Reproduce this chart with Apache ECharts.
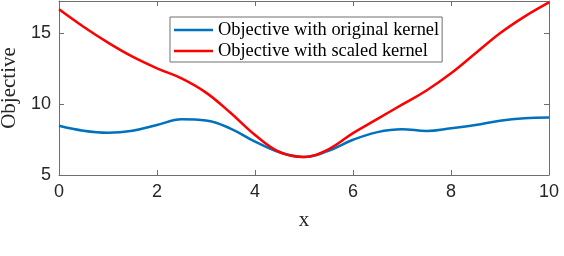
<!DOCTYPE html>
<html>
<head>
<meta charset="utf-8">
<script src="https://cdn.jsdelivr.net/npm/echarts@6/dist/echarts.min.js"></script>
<style>html,body{margin:0;padding:0;background:#fff}#c{width:564px;height:256px}</style>
</head>
<body>
<div id="c"></div>
<script>
const xValues = [0, 0.5, 1, 1.5, 2, 2.5, 3, 3.5, 4, 4.5, 5, 5.5, 6, 6.5, 7, 7.5, 8, 8.5, 9, 9.5, 10];
const originalKernel = [8.47, 8.12, 7.98, 8.12, 8.52, 8.92, 8.84, 8.27, 7.35, 6.60, 6.27, 6.71, 7.48, 8.02, 8.22, 8.10, 8.29, 8.52, 8.82, 8.99, 9.04];
const scaledKernel = [16.67, 15.44, 14.32, 13.33, 12.51, 11.80, 10.80, 9.38, 7.82, 6.62, 6.27, 6.81, 7.95, 8.95, 9.95, 10.95, 12.16, 13.57, 14.98, 16.15, 17.15];
const seriesNames = ['Objective with original kernel', 'Objective with scaled kernel'];
const xTicks = [0, 2, 4, 6, 8, 10];
const yTicks = [5, 10, 15];

const axisColor = '#6e6e6e';
const labelFont = {color: '#262626', fontFamily: 'Liberation Sans', fontSize: 18};
const serif = 'Liberation Serif';

const chart = echarts.init(document.getElementById('c'), null, {renderer: 'canvas'});
const pairs = arr => xValues.map((x, i) => [x, arr[i]]);
const baseAxis = {
  axisLine: {show: true, onZero: false, lineStyle: {color: axisColor, width: 1}},
  axisTick: {show: true, inside: true, length: 5, lineStyle: {color: axisColor}},
  splitLine: {show: false}
};
chart.setOption({
  animation: false,
  grid: {left: 59, right: 15, top: 1, bottom: 81, containLabel: false, outerBoundsMode: 'none'},
  legend: {
    orient: 'vertical', left: 170, top: 17,
    padding: [2.5, 3, 0.5, 4], itemGap: 0,
    itemWidth: 39, itemHeight: 21,
    backgroundColor: '#fff',
    borderColor: '#6e6e6e', borderWidth: 1, borderRadius: 0,
    textStyle: {fontFamily: serif, fontSize: 18.4, color: '#000', lineHeight: 21},
    data: seriesNames.map(n => ({name: n, icon: 'path://M0,0H39V2.5H0Z'}))
  },
  xAxis: [
    Object.assign({}, baseAxis, {
      type: 'value', min: 0, max: 10, interval: 2, position: 'bottom',
      axisLabel: Object.assign({margin: 8, formatter: v => xTicks.includes(v) ? String(v) : ''}, labelFont),
      name: 'x', nameLocation: 'middle', nameGap: 35,
      nameTextStyle: {fontFamily: serif, fontSize: 21, color: '#262626'}
    }),
    Object.assign({}, baseAxis, {
      type: 'value', min: 0, max: 10, interval: 2, position: 'top',
      axisLabel: {show: false}
    })
  ],
  yAxis: [
    Object.assign({}, baseAxis, {
      type: 'value', min: 5, max: 17.25, interval: 5, position: 'left',
      axisLabel: Object.assign({margin: 8, showMaxLabel: false, formatter: v => yTicks.includes(v) ? String(v) : ''}, labelFont),
      name: 'Objective', nameLocation: 'middle', nameGap: 37, nameRotate: 90,
      nameTextStyle: {fontFamily: serif, fontSize: 21, color: '#262626'}
    }),
    Object.assign({}, baseAxis, {
      type: 'value', min: 5, max: 17.25, interval: 5, position: 'right',
      axisLabel: {show: false}
    })
  ],
  series: [
    {name: seriesNames[0], type: 'line', data: pairs(originalKernel), smooth: 0.4, symbol: 'none',
     color: '#0072BD', lineStyle: {width: 2.5, color: '#0072BD'}},
    {name: seriesNames[1], type: 'line', data: pairs(scaledKernel), smooth: 0.4, symbol: 'none',
     color: '#FF0000', lineStyle: {width: 2.5, color: '#FF0000'}}
  ]
});
</script>
</body>
</html>
